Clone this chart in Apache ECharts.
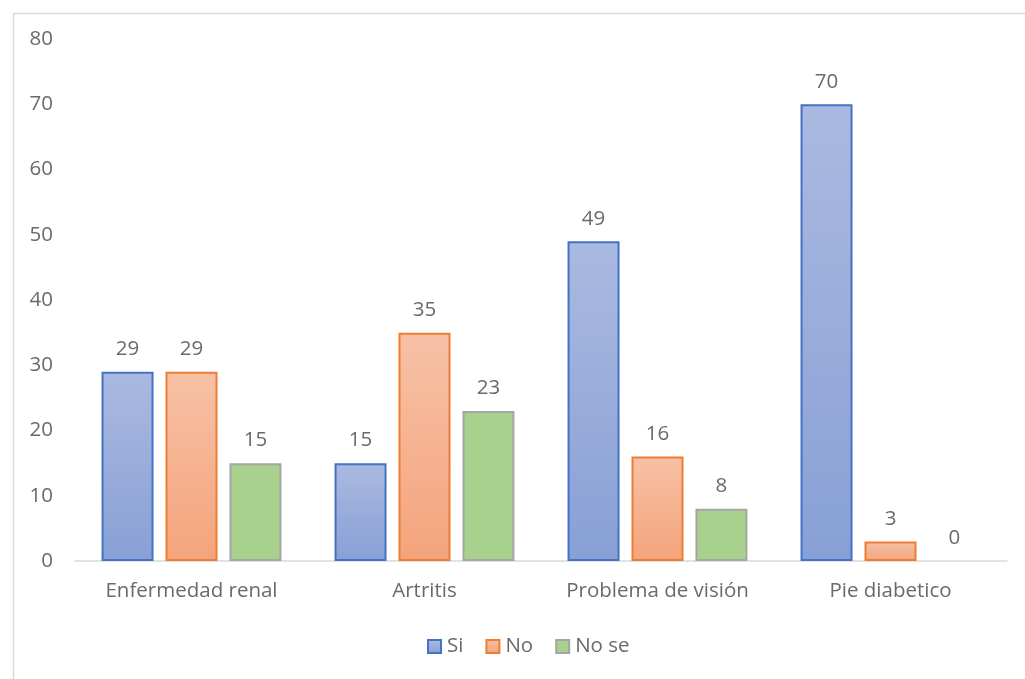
<!DOCTYPE html>
<html>
<head>
<meta charset="utf-8">
<script src="https://cdn.jsdelivr.net/npm/echarts@6/dist/echarts.min.js"></script>
<style>
html,body{margin:0;padding:0;background:#fff;}
#chart{width:1025px;height:679px;}
</style>
</head>
<body>
<div id="chart"></div>
<script>
var categories = ['Enfermedad renal', 'Artritis', 'Problema de visión', 'Pie diabetico'];
var seriesNames = ['Si', 'No', 'No se'];
var siValues = [29, 15, 49, 70];
var noValues = [29, 35, 16, 3];
var noseValues = [15, 23, 8, 0];
var yTicks = [0, 10, 20, 30, 40, 50, 60, 70, 80];

var FONT = '"Open Sans", "Noto Sans", sans-serif';
var TXT = '#6a6a6a';
var FS = 20.5;

function grad(top, bottom) {
  return new echarts.graphic.LinearGradient(0, 0, 0, 1, [
    {offset: 0, color: top}, {offset: 1, color: bottom}
  ]);
}
var styles = [
  {color: grad('#aab9e0', '#88a0d6'), borderColor: '#4472c4', borderWidth: 2},
  {color: grad('#f7c1a6', '#f4a47c'), borderColor: '#ed7d31', borderWidth: 2},
  {color: '#a9d18e', borderColor: '#a5a5a5', borderWidth: 2}
];
var values = [siValues, noValues, noseValues];

var chart = echarts.init(document.getElementById('chart'), null, {renderer: 'canvas'});
chart.setOption({
  animation: false,
  backgroundColor: '#fff',
  graphic: [{
    type: 'rect', left: 11, top: 11, z: -1,
    shape: {width: 1030, height: 690},
    style: {fill: 'none', stroke: '#d9d9d9', lineWidth: 1.5}
  }],
  grid: {left: 75, right: 18, top: 39, bottom: 118, containLabel: false},
  legend: {
    bottom: 17, left: 422,
    itemWidth: 13, itemHeight: 13, itemGap: 22,
    icon: 'rect',
    textStyle: {color: TXT, fontSize: FS, fontFamily: FONT, padding: [0,0,0,1]},
    data: seriesNames
  },
  xAxis: {
    type: 'category', data: categories,
    axisLine: {show: true, lineStyle: {color: '#d9d9d9', width: 1.5}},
    axisTick: {show: false},
    axisLabel: {color: TXT, fontSize: FS, fontFamily: FONT, margin: 20, interval: 0}
  },
  yAxis: {
    type: 'value', min: yTicks[0], max: yTicks[yTicks.length - 1], interval: 10,
    splitLine: {show: false},
    axisLine: {show: false}, axisTick: {show: false},
    axisLabel: {color: TXT, fontSize: FS, fontFamily: FONT, margin: 22}
  },
  series: seriesNames.map(function (n, i) {
    return {
      name: n, type: 'bar',
      data: values[i].map(function (v) {
        return v === 0 ? {value: v, itemStyle: {borderWidth: 0}} : v;
      }),
      barWidth: 52, barGap: '23%',
      itemStyle: styles[i],
      label: {show: true, position: 'top', distance: 12, color: TXT, fontSize: FS, fontFamily: FONT}
    };
  })
});
</script>
</body>
</html>
